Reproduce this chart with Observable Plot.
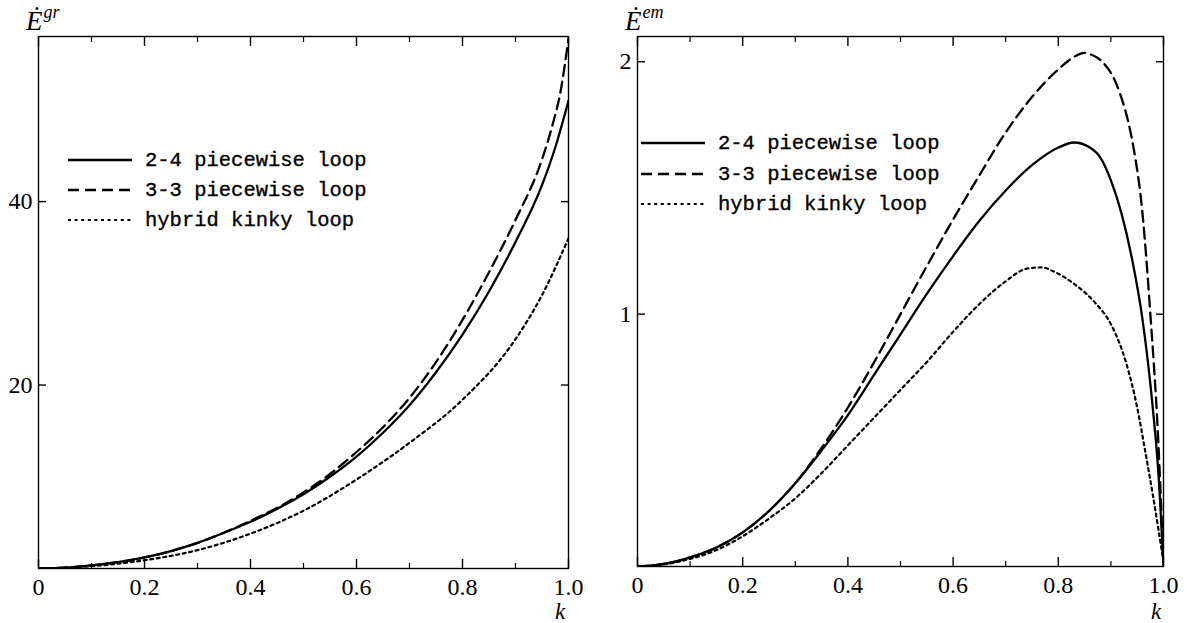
<!DOCTYPE html>
<html><head><meta charset="utf-8">
<script src="https://cdn.jsdelivr.net/npm/d3@7"></script>
<script src="https://cdn.jsdelivr.net/npm/@observablehq/plot@0.6"></script>
<style>
body{margin:0;background:#fff;}
#wrap{position:relative;width:1187px;height:623px;overflow:hidden;background:#fff;}
.panel{position:absolute;top:0;}
.panel text{font-family:"Liberation Serif","Times New Roman","DejaVu Serif",serif !important;}
.ttl{position:absolute;font-family:"Liberation Serif","Times New Roman","DejaVu Serif",serif;font-size:27px;font-style:italic;line-height:1;white-space:nowrap;color:#000;}
.ttl sup{font-size:18px;position:relative;top:-2px;margin-left:1px;}
.kl{position:absolute;font-family:"Liberation Serif","Times New Roman","DejaVu Serif",serif;font-size:23px;font-style:italic;line-height:1;color:#000;}
.leg{position:absolute;font-family:"Liberation Mono","Courier New","DejaVu Sans Mono",monospace;font-size:20.5px;color:#000;-webkit-text-stroke:0.35px #000;}
.leg .row{position:absolute;left:0;height:30px;white-space:nowrap;}
.leg svg{position:absolute;left:0;top:0;}
.leg span{position:absolute;top:50%;transform:translateY(-50%);}
</style></head>
<body><div id="wrap"></div>
<script>
// ---------- data ----------
const seriesNames = ["2-4 piecewise loop", "3-3 piecewise loop", "hybrid kinky loop"];

// Left panel: gravitational radiation power
const grK24 = [0, 0.05, 0.1, 0.15, 0.2, 0.25, 0.3, 0.35, 0.4, 0.45, 0.5, 0.55, 0.6, 0.65, 0.7, 0.75, 0.8, 0.85, 0.9, 0.95, 0.975, 1.0];
const grV24 = [0, 0.1, 0.35, 0.7, 1.2, 1.9, 2.8, 3.9, 5.1, 6.5, 8.1, 10.0, 12.2, 14.8, 17.8, 21.4, 25.5, 30.2, 35.6, 41.8, 45.9, 51.0];
const grK33 = [0, 0.05, 0.1, 0.15, 0.2, 0.25, 0.3, 0.35, 0.4, 0.45, 0.5, 0.55, 0.6, 0.65, 0.7, 0.75, 0.8, 0.85, 0.9, 0.95, 0.97, 0.985, 1.0];
const grV33 = [0, 0.1, 0.35, 0.7, 1.2, 1.9, 2.8, 3.9, 5.2, 6.6, 8.3, 10.3, 12.7, 15.4, 18.6, 22.5, 27.1, 32.3, 38.0, 44.6, 48.4, 52.0, 57.8];
const grKHy = [0, 0.1, 0.2, 0.3, 0.4, 0.5, 0.6, 0.7, 0.8, 0.9, 0.95, 1.0];
const grVHy = [0, 0.25, 0.9, 2.0, 3.8, 6.3, 9.7, 13.7, 18.4, 25.0, 29.8, 36.0];

// Right panel: electromagnetic radiation power
const emK24 = [0, 0.05, 0.1, 0.15, 0.2, 0.25, 0.3, 0.35, 0.4, 0.45, 0.5, 0.55, 0.6, 0.65, 0.7, 0.75, 0.8, 0.83, 0.86, 0.88, 0.9, 0.92, 0.94, 0.96, 0.98, 0.99, 1.0];
const emV24 = [0, 0.01, 0.036, 0.075, 0.135, 0.22, 0.33, 0.46, 0.6, 0.76, 0.92, 1.08, 1.23, 1.37, 1.49, 1.59, 1.66, 1.68, 1.66, 1.62, 1.53, 1.40, 1.22, 0.98, 0.62, 0.38, 0.0];
const emK33 = [0, 0.05, 0.1, 0.15, 0.2, 0.25, 0.3, 0.35, 0.4, 0.45, 0.5, 0.55, 0.6, 0.65, 0.7, 0.75, 0.8, 0.82, 0.84, 0.85, 0.86, 0.875, 0.89, 0.903, 0.918, 0.932, 0.943, 0.96, 0.975, 0.99, 1.0];
const emV33 = [0, 0.01, 0.036, 0.075, 0.135, 0.22, 0.33, 0.47, 0.63, 0.81, 1.0, 1.19, 1.375, 1.55, 1.72, 1.86, 1.97, 2.005, 2.03, 2.035, 2.03, 2.015, 1.985, 1.945, 1.87, 1.77, 1.66, 1.40, 1.0, 0.5, 0.0];
const emKHy = [0, 0.05, 0.1, 0.15, 0.2, 0.25, 0.3, 0.35, 0.4, 0.45, 0.5, 0.55, 0.6, 0.65, 0.7, 0.74, 0.77, 0.79, 0.83, 0.87, 0.9, 0.93, 0.95, 0.965, 0.98, 1.0];
const emVHy = [0, 0.008, 0.03, 0.065, 0.12, 0.19, 0.27, 0.37, 0.48, 0.59, 0.70, 0.81, 0.93, 1.04, 1.13, 1.18, 1.185, 1.17, 1.12, 1.045, 0.96, 0.80, 0.63, 0.46, 0.28, 0.02];

const xMajorTicks = [0, 0.2, 0.4, 0.6, 0.8, 1.0];
const xMinorTicks = [0.1, 0.3, 0.5, 0.7, 0.9];
const grYTicks = [20, 40];
const emYTicks = [1, 2];

// ---------- styles ----------
const dashes = [null, "11,6", "3,3.6"];
const widths = [2.3, 2.3, 2.2];
const serif = "'Liberation Serif', 'Times New Roman', 'DejaVu Serif', serif";

function rows(k, v) { return k.map((kk, i) => ({k: kk, v: v[i]})); }

function panel({series, yDomain, yTicks, width, marginLeft, marginRight, marginBottom}) {
  const lineMarks = series.map((s, i) => Plot.line(s, {
    x: "k", y: "v", curve: "monotone-x", clip: true,
    stroke: "#000", strokeWidth: widths[i],
    strokeDasharray: dashes[i] || undefined
  }));
  return Plot.plot({
    width, height: 623, marginLeft, marginRight, marginTop: 36, marginBottom,
    x: {domain: [0, 1]},
    y: {domain: yDomain},
    style: {fontFamily: serif, fontSize: "24px", color: "#000", background: "transparent"},
    marks: [
      ...lineMarks,
      Plot.frame({stroke: "#000", strokeWidth: 1.4}),
      // tick labels
      Plot.axisX({anchor: "bottom", ticks: xMajorTicks, tickSize: 0, tickPadding: 9, label: null,
        tickFormat: d => d === 0 ? "0" : d.toFixed(1), fill: "#000"}),
      Plot.axisY({anchor: "left", ticks: yTicks, tickSize: 0, tickPadding: 6, label: null, tickFormat: d => String(d)}),
      // inward ticks
      Plot.axisX({anchor: "bottom", ticks: xMajorTicks, tickSize: 9, dy: -9, text: null, label: null, strokeWidth: 1.4}),
      Plot.axisX({anchor: "bottom", ticks: xMinorTicks, tickSize: 5, dy: -5, text: null, label: null, strokeWidth: 1.2}),
      Plot.axisX({anchor: "top", ticks: xMajorTicks, tickSize: 9, dy: 9, text: null, label: null, strokeWidth: 1.4}),
      Plot.axisX({anchor: "top", ticks: xMinorTicks, tickSize: 5, dy: 5, text: null, label: null, strokeWidth: 1.2}),
      Plot.axisY({anchor: "left", ticks: yTicks, tickSize: 8, dx: 8, text: null, label: null, strokeWidth: 1.4}),
      Plot.axisY({anchor: "right", ticks: yTicks, tickSize: 8, dx: -8, text: null, label: null, strokeWidth: 1.4})
    ]
  });
}

const wrap = document.getElementById("wrap");

const left = panel({
  series: [rows(grK24, grV24), rows(grK33, grV33), rows(grKHy, grVHy)],
  yDomain: [0, 58], yTicks: grYTicks,
  width: 600, marginLeft: 38, marginRight: 32, marginBottom: 55
});
left.classList.add("panel"); left.style.left = "0px";
wrap.appendChild(left);

const right = panel({
  series: [rows(emK24, emV24), rows(emK33, emV33), rows(emKHy, emVHy)],
  yDomain: [0, 2.1], yTicks: emYTicks,
  width: 587, marginLeft: 37, marginRight: 24, marginBottom: 57
});
right.classList.add("panel"); right.style.left = "600px";
wrap.appendChild(right);

// axis titles
function addTitle(html, x, y, cls) {
  const d = document.createElement("div");
  d.className = cls; d.innerHTML = html;
  d.style.left = x + "px"; d.style.top = y + "px";
  wrap.appendChild(d);
}
addTitle("Ė<sup>gr</sup>", 26, 5, "ttl");
addTitle("Ė<sup>em</sup>", 625, 5, "ttl");
addTitle("k", 555, 600, "kl");
addTitle("k", 1151, 600, "kl");

// legends
function addLegend(x, y0, dy) {
  const g = document.createElement("div");
  g.className = "leg"; g.style.left = x + "px"; g.style.top = y0 + "px";
  seriesNames.forEach((name, i) => {
    const r = document.createElement("div");
    r.className = "row"; r.style.top = (i * dy - 15) + "px"; r.style.width = "400px";
    const svg = d3.create("svg").attr("width", 66).attr("height", 30);
    svg.append("line").attr("x1", 0).attr("x2", 64).attr("y1", 15).attr("y2", 15)
      .attr("stroke", "#000").attr("stroke-width", widths[i])
      .attr("stroke-dasharray", dashes[i]);
    r.appendChild(svg.node());
    const t = document.createElement("span");
    t.textContent = name; t.style.left = "77px";
    r.appendChild(t);
    g.appendChild(r);
  });
  wrap.appendChild(g);
}
addLegend(68, 160, 30.2);
addLegend(641, 143, 30.5);
</script>
</body></html>
